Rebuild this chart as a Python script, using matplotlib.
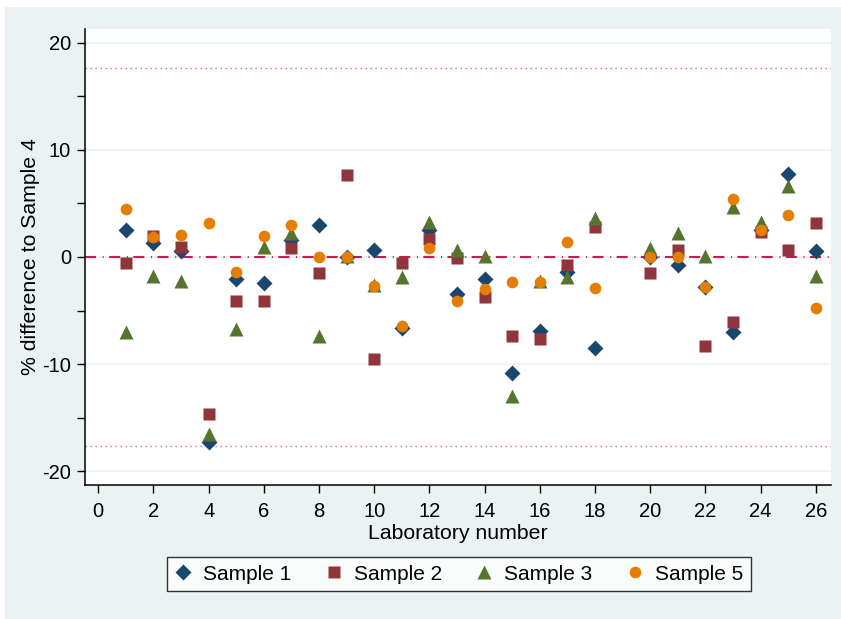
"""Laboratory comparison: % difference of samples to Sample 4."""

import matplotlib.pyplot as plt
import numpy as np
from matplotlib.patches import Rectangle

nan = np.nan

labs = np.arange(1, 27)
sample1 = [2.5, 1.3, 0.6, -17.3, -2.1, -2.4, 1.6, 3.0, 0.0, 0.65, -6.6, 2.5, -3.5,
           -2.1, -10.8, -6.9, -1.4, -8.5, nan, 0.0, -0.75, -2.8, -7.0, 2.5, 7.8, 0.6]
sample2 = [-0.6, 2.0, 0.9, -14.7, -4.1, -4.1, 0.8, -1.5, 7.7, -9.5, -0.6, 1.7, -0.1,
           -3.7, -7.4, -7.7, -0.75, 2.8, nan, -1.5, 0.65, -8.3, -6.1, 2.3, 0.65, 3.2]
sample3 = [-7.0, -1.8, -2.2, -16.5, -6.7, 0.9, 2.2, -7.4, 0.05, -2.6, -1.9, 3.3, 0.7,
           0.1, -13.0, -2.2, -1.9, 3.6, nan, 0.8, 2.2, 0.1, 4.7, 3.3, 6.6, -1.8]
sample5 = [4.5, 1.9, 2.1, 3.2, -1.4, 2.0, 3.0, 0.0, 0.0, -2.7, -6.4, 0.8, -4.1,
           -3.0, -2.3, -2.3, 1.4, -2.9, nan, 0.0, 0.0, -2.8, 5.4, 2.5, 3.9, -4.8]
limit = 17.7

xticks = np.arange(0, 27, 2)
yticks = [-20, -10, 0, 10, 20]
yminor = [-15, -5, 5, 15]

plt.rcParams["font.family"] = ["Liberation Sans", "DejaVu Sans"]
plt.rcParams["axes.unicode_minus"] = False

bg = "#EAF2F3"
fig = plt.figure(figsize=(8.41, 6.19), dpi=100, facecolor="white")
fig.patches.append(Rectangle((5 / 841, 0), 836 / 841, 612 / 619,
                             transform=fig.transFigure, facecolor=bg,
                             edgecolor="none", zorder=-10))

ax = fig.add_axes([85 / 841, 1 - 485 / 619, 746 / 841, 456 / 619])
ax.set_facecolor("white")

for y in yticks:
    ax.axhline(y, color=bg, lw=1.3, zorder=0)
ax.axhline(limit, color="#E0678A", lw=1.0, dashes=(1, 2.6), zorder=1)
ax.axhline(-limit, color="#E0678A", lw=1.0, dashes=(1, 2.6), zorder=1)
ax.axhline(0, color="#C41E4A", lw=1.5, dashes=(5.3, 3.2, 0.5, 2.6), zorder=1)

ax.plot(labs, sample1, "D", color="#1A476F", ms=8, mec="none", label="Sample 1", zorder=3)
ax.plot(labs, sample2, "s", color="#90353B", ms=8.4, mec="none", label="Sample 2", zorder=3)
ax.plot(labs, sample3, "^", color="#55752F", ms=9.5, mec="none", label="Sample 3", zorder=3)
ax.plot(labs, sample5, "o", color="#E37E00", ms=8.4, mec="none", label="Sample 5", zorder=3)

ax.set_xlim(-0.48, 26.55)
ax.set_ylim(-21.3, 21.3)
ax.set_xticks(xticks)
ax.set_yticks(yticks)
ax.set_yticks(yminor, minor=True)

for side in ("top", "right"):
    ax.spines[side].set_visible(False)
for side in ("left", "bottom"):
    ax.spines[side].set_linewidth(1.1)

ax.tick_params(axis="both", which="major", length=6, width=1.0, labelsize=14.5)
ax.tick_params(axis="x", pad=6)
ax.tick_params(axis="y", pad=4)
ax.tick_params(axis="y", which="minor", length=6, width=1.0)

ax.set_xlabel("Laboratory number", fontsize=15.3)
ax.set_ylabel("% difference to Sample 4", fontsize=15.3)
ax.xaxis.set_label_coords(0.5, -0.086)
ax.yaxis.set_label_coords(-0.060, 0.5)

leg = fig.legend(loc="center", bbox_to_anchor=(459 / 841, 1 - 574 / 619), ncol=4,
                 fontsize=15, frameon=True, fancybox=False, handlelength=0.8,
                 handletextpad=0.55, columnspacing=1.65, borderpad=0.35)
leg.get_frame().set_edgecolor("black")
leg.get_frame().set_linewidth(1.0)

fig.savefig("out.png", dpi=100, facecolor=fig.get_facecolor())
